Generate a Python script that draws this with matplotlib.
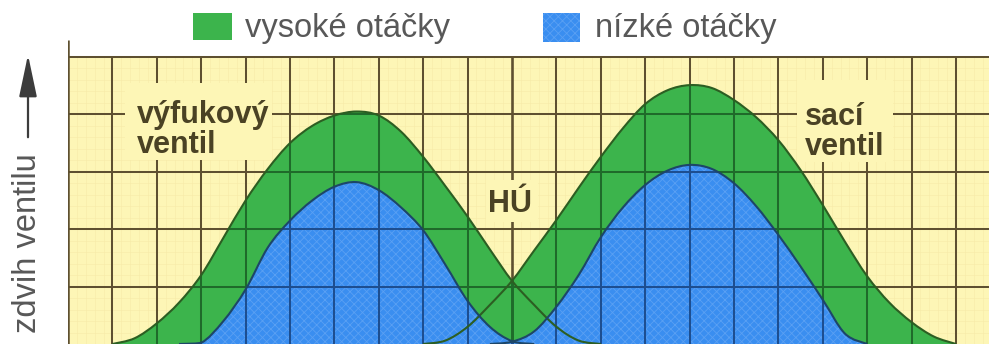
import numpy as np
import matplotlib
matplotlib.use("Agg")
import matplotlib.pyplot as plt
from matplotlib.patches import Rectangle, FancyArrowPatch, PathPatch
from matplotlib.path import Path

plt.rcParams['font.family'] = ['Liberation Sans', 'DejaVu Sans']
plt.rcParams['hatch.linewidth'] = 0.6

# crank position (grid columns) and valve lift (grid rows)
crank = np.arange(1.0, 20.01, 0.5)

lift_exhaust_high = [0.0, 0.1, 0.36, 0.72, 1.2, 1.85, 2.5, 3.05, 3.5, 3.8,
                     3.98, 4.05, 3.98, 3.7, 3.26, 2.75, 2.22, 1.65, 1.1, 0.68,
                     0.3, 0.06, 0.0, 0.0, 0.0, 0.0, 0.0, 0.0, 0.0, 0.0,
                     0.0, 0.0, 0.0, 0.0, 0.0, 0.0, 0.0, 0.0, 0.0]
lift_exhaust_low = [0.0, 0.0, 0.0, 0.0, 0.02, 0.4, 0.95, 1.68, 2.15, 2.5,
                    2.74, 2.82, 2.68, 2.38, 1.98, 1.38, 0.75, 0.3, 0.05, 0.0,
                    0.0, 0.0, 0.0, 0.0, 0.0, 0.0, 0.0, 0.0, 0.0, 0.0,
                    0.0, 0.0, 0.0, 0.0, 0.0, 0.0, 0.0, 0.0, 0.0]
lift_intake_high = [0.0, 0.0, 0.0, 0.0, 0.0, 0.0, 0.0, 0.0, 0.0, 0.0,
                    0.0, 0.0, 0.0, 0.0, 0.0, 0.06, 0.3, 0.68, 1.1, 1.63,
                    2.16, 2.72, 3.26, 3.76, 4.18, 4.42, 4.51, 4.46, 4.25, 3.95,
                    3.55, 3.03, 2.42, 1.78, 1.18, 0.72, 0.38, 0.13, 0.0]
lift_intake_low = [0.0, 0.0, 0.0, 0.0, 0.0, 0.0, 0.0, 0.0, 0.0, 0.0,
                   0.0, 0.0, 0.0, 0.0, 0.0, 0.0, 0.0, 0.0, 0.04, 0.22,
                   0.65, 1.2, 1.86, 2.38, 2.77, 3.02, 3.12, 3.05, 2.8, 2.4,
                   1.9, 1.35, 0.77, 0.18, 0.0, 0.0, 0.0, 0.0, 0.0]

legend_labels = ["vysoké otáčky", "nízké otáčky"]
valve_labels = ["výfukový\nventil", "sací\nventil"]
tdc_label = "HÚ"
axis_label = "zdvih ventilu"

# colours
YELLOW = "#fdf6b6"
FINE_GRID = "#f6eba8"
GREEN = "#3cb44c"
BLUE = "#3a8ef0"
HATCH_BLUE = "#5aa0f3"
GRID_ON_PAPER = "#5e5030"
GRID_ON_GREEN = "#1f6a2a"
GRID_ON_BLUE = "#1d4e90"
OUTLINE_GREEN = "#2c5e22"
OUTLINE_BLUE = "#1d4668"
LABEL = "#4a4224"
LEGEND_TEXT = "#585858"

W, H = 989, 344
fig = plt.figure(figsize=(W / 100, H / 100), dpi=100)
fig.patch.set_facecolor("white")

x_right = (W - 68) / 44.4
y_top = 304 / 57.4
ax = fig.add_axes([68 / W, 0, (W - 68) / W, 304 / H])
ax.set_xlim(0, x_right)
ax.set_ylim(0, y_top)
ax.set_axis_off()

# graph paper
ax.add_patch(Rectangle((0, 0), x_right, 5, facecolor=YELLOW, edgecolor="none", zorder=0))
for v in np.arange(0.2, x_right, 0.2):
    ax.plot([v, v], [0, 5], color=FINE_GRID, lw=0.4, zorder=0.2)
for v in np.arange(0.2, 5, 0.2):
    ax.plot([0, x_right], [v, v], color=FINE_GRID, lw=0.4, zorder=0.2)

cols = np.arange(1, 21)
rows = np.arange(1, 6)


def draw_grid(color, z, clip=None, lw=1.45):
    for c in cols:
        ln, = ax.plot([c, c], [0, 5], color=color, lw=lw * (1.3 if c == 10 else 1), zorder=z,
                      solid_capstyle="butt")
        if clip is not None:
            ln.set_clip_path(clip)
    for r in rows:
        ln, = ax.plot([0, x_right], [r, r], color=color, lw=lw, zorder=z, solid_capstyle="butt")
        if clip is not None:
            ln.set_clip_path(clip)


def curve_path(vals, closed):
    """Smooth cubic path through the non-zero stretch of a lift series."""
    v = np.asarray(vals, dtype=float)
    nz = np.nonzero(v > 0)[0]
    i0, i1 = max(nz[0] - 1, 0), min(nz[-1] + 1, len(v) - 1)
    pts = np.column_stack([crank[i0:i1 + 1], v[i0:i1 + 1]])
    n = len(pts)
    verts = [pts[0]]
    codes = [Path.MOVETO]
    for i in range(n - 1):
        p0 = pts[i - 1] if i > 0 else pts[i]
        p1, p2 = pts[i], pts[i + 1]
        p3 = pts[i + 2] if i + 2 < n else pts[i + 1]
        c1 = p1 + (p2 - p0) / 6.0
        c2 = p2 - (p3 - p1) / 6.0
        c1[1] = max(c1[1], 0.0)
        c2[1] = max(c2[1], 0.0)
        verts += [c1, c2, p2]
        codes += [Path.CURVE4] * 3
    if closed:
        verts += [(pts[-1][0], 0.0), (pts[0][0], 0.0), (pts[0][0], 0.0)]
        codes += [Path.LINETO, Path.LINETO, Path.CLOSEPOLY]
    return Path(np.array(verts), codes)


draw_grid(GRID_ON_PAPER, 0.5)

# high-speed (green) lift areas, with the grid printed over them
green_areas = []
for vals in (lift_exhaust_high, lift_intake_high):
    p = PathPatch(curve_path(vals, True), facecolor=GREEN, edgecolor="none", zorder=1)
    ax.add_patch(p)
    green_areas.append(p)
for p in green_areas:
    draw_grid(GRID_ON_GREEN, 1.5, clip=p)

# low-speed (blue) lift areas
blue_areas = []
for vals in (lift_exhaust_low, lift_intake_low):
    p = PathPatch(curve_path(vals, True), facecolor=BLUE, edgecolor=HATCH_BLUE, linewidth=0,
                  hatch="xxxx", zorder=2)
    ax.add_patch(p)
    blue_areas.append(p)
for p in blue_areas:
    draw_grid(GRID_ON_BLUE, 2.5, clip=p)

# y axis line
ax.plot([0, 0], [0, y_top], color=GRID_ON_PAPER, lw=1.8, zorder=3, solid_capstyle="butt")

# paper cut-outs behind the labels
for (x0, x1, y0, y1) in [((125 - 68) / 44.4, (272 - 68) / 44.4, (344 - 160) / 57.4, (344 - 83) / 57.4),
                         ((797 - 68) / 44.4, (893 - 68) / 44.4, (344 - 162) / 57.4, (344 - 80) / 57.4),
                         ((486 - 68) / 44.4, (538 - 68) / 44.4, (344 - 222) / 57.4, (344 - 180) / 57.4)]:
    ax.add_patch(Rectangle((x0, y0), x1 - x0, y1 - y0, facecolor=YELLOW, edgecolor="none", zorder=3.5))

# curve outlines
for vals, col in ((lift_exhaust_high, OUTLINE_GREEN), (lift_intake_high, OUTLINE_GREEN),
                  (lift_exhaust_low, OUTLINE_BLUE), (lift_intake_low, OUTLINE_BLUE)):
    ax.add_patch(PathPatch(curve_path(vals, False), facecolor="none", edgecolor=col,
                           lw=1.5, zorder=5))

# labels on the chart
lab_kw = dict(fontsize=22, fontweight="bold", color=LABEL, zorder=6, linespacing=1.0)
ax.text((137 - 68) / 44.4, (344 - 153) / 57.4, valve_labels[0], ha="left", va="baseline", **lab_kw)
ax.text((805 - 68) / 44.4, (344 - 155) / 57.4, valve_labels[1], ha="left", va="baseline", **lab_kw)
ax.text((488 - 68) / 44.4, (344 - 212) / 57.4, tdc_label, ha="left", va="baseline", **lab_kw)


# legend above the grid
def fx(px):
    return px / W


def fy(py):
    return 1 - py / H


fig.patches.append(Rectangle((fx(193), fy(40)), fx(232) - fx(193), fy(13) - fy(40),
                             transform=fig.transFigure, facecolor=GREEN, edgecolor="none"))
fig.patches.append(Rectangle((fx(543), fy(42)), fx(580) - fx(543), fy(13) - fy(42),
                             transform=fig.transFigure, facecolor=BLUE, edgecolor=HATCH_BLUE,
                             linewidth=0, hatch="xxxx"))
fig.text(fx(245), fy(37), legend_labels[0], fontsize=23.5, color=LEGEND_TEXT, ha="left", va="baseline")
fig.text(fx(595), fy(37), legend_labels[1], fontsize=23.5, color=LEGEND_TEXT, ha="left", va="baseline")

# axis caption with arrow
fig.text(fx(28), fy(243), axis_label, rotation=90, fontsize=23.5, color=LEGEND_TEXT,
         ha="center", va="center")
arrow = FancyArrowPatch((fx(28), fy(140)), (fx(28), fy(52)), transform=fig.transFigure,
                        arrowstyle="-|>,head_length=26,head_width=5.5", mutation_scale=1,
                        color="#3c3c3c", lw=1.6)
fig.patches.append(arrow)

fig.savefig("out.png", dpi=100, facecolor="white")
